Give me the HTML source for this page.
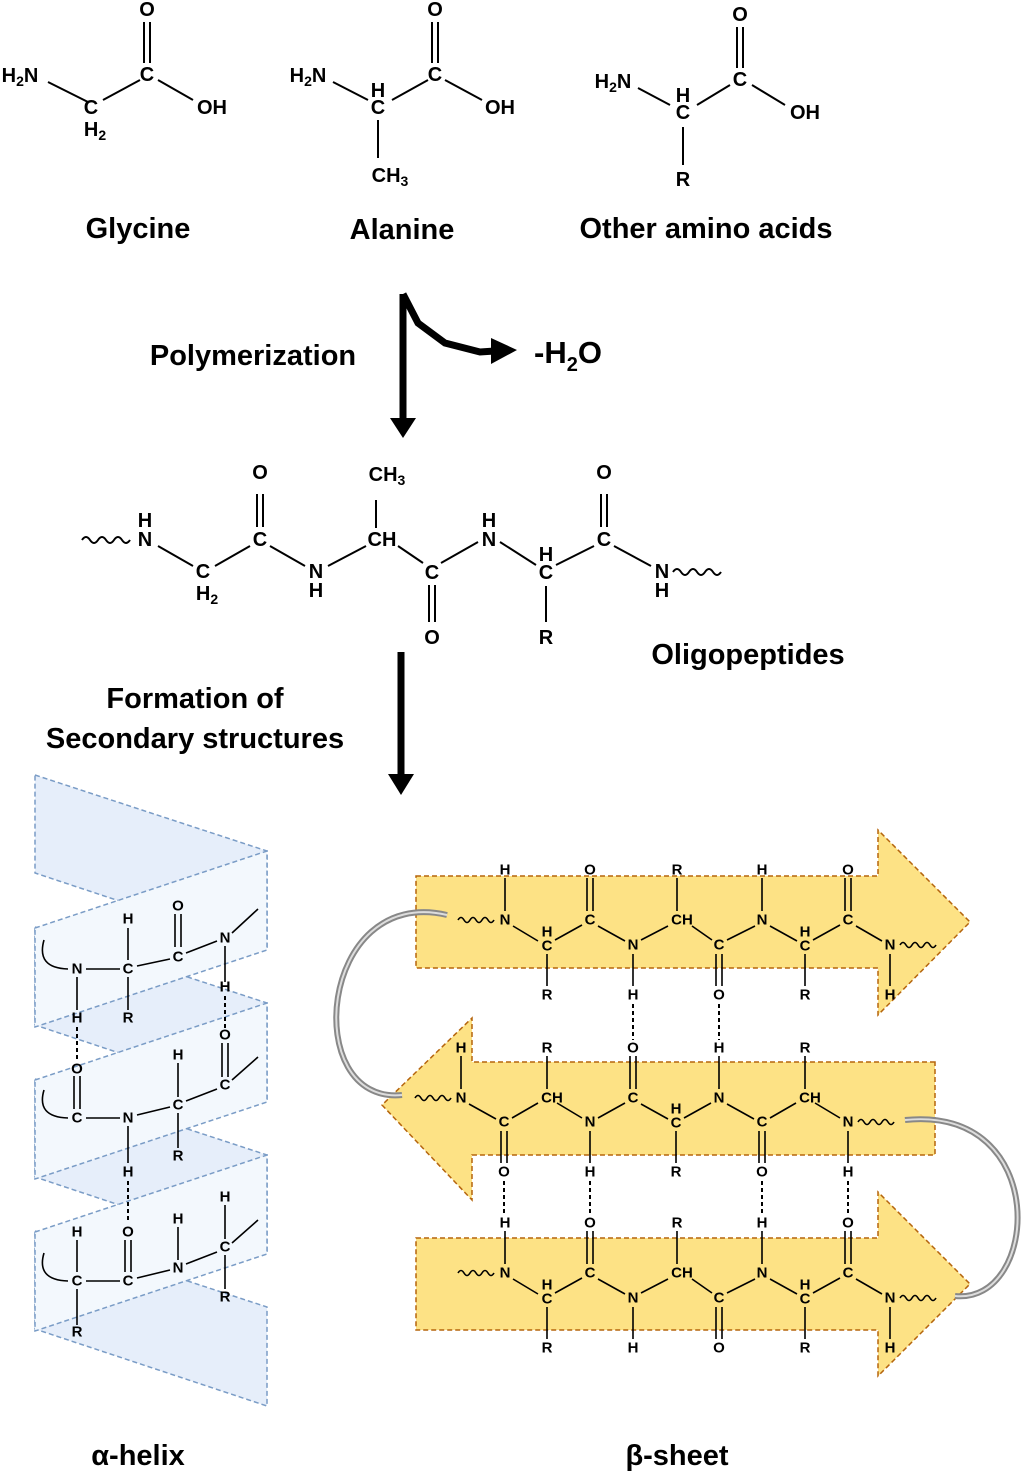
<!DOCTYPE html>
<html><head><meta charset="utf-8"><style>
html,body{margin:0;padding:0;background:#fff;}
svg{display:block;}
.a{font-family:"Liberation Sans",Arial,sans-serif;font-weight:bold;fill:#000;text-anchor:middle;dominant-baseline:central;}
.t{font-size:20px;}
.s{font-size:15px;}
.lab{font-family:"Liberation Sans",Arial,sans-serif;font-weight:bold;font-size:29px;fill:#000;text-anchor:middle;}
.b{stroke:#000;stroke-width:2;fill:none;}
.h{stroke:#000;stroke-width:2;fill:none;stroke-dasharray:4,3;}
</style></head><body>
<svg width="1024" height="1472" viewBox="0 0 1024 1472" xmlns="http://www.w3.org/2000/svg">
<!-- Glycine -->
<g class="b">
<path d="M48,82 L88,102 M103,100 L140,80 M144,22 V63 M150,22 V63 M158,80 L193,100"/>
</g>
<text class="a t" x="20" y="76">H<tspan font-size="14" dy="5">2</tspan><tspan dy="-5">N</tspan></text>
<text class="a t" x="91" y="108">C</text>
<text class="a t" x="95" y="130">H<tspan font-size="14" dy="5">2</tspan></text>
<text class="a t" x="147" y="75">C</text>
<text class="a t" x="147" y="10">O</text>
<text class="a t" x="212" y="108">OH</text>
<!-- Alanine -->
<g class="b">
<path d="M333,82 L368,100 M392,100 L428,80 M432,22 V63 M438,22 V63 M445,80 L482,100 M378,120 V158"/>
</g>
<text class="a t" x="308" y="76">H<tspan font-size="14" dy="5">2</tspan><tspan dy="-5">N</tspan></text>
<text class="a t" x="378" y="91">H</text>
<text class="a t" x="378" y="108">C</text>
<text class="a t" x="435" y="75">C</text>
<text class="a t" x="435" y="10">O</text>
<text class="a t" x="500" y="108">OH</text>
<text class="a t" x="390" y="176">CH<tspan font-size="14" dy="5">3</tspan></text>
<!-- Other -->
<g class="b">
<path d="M638,88 L670,105 M697,105 L730,85 M737,27 V68 M743,27 V68 M752,85 L785,105 M683,127 V165"/>
</g>
<text class="a t" x="613" y="82">H<tspan font-size="14" dy="5">2</tspan><tspan dy="-5">N</tspan></text>
<text class="a t" x="683" y="96">H</text>
<text class="a t" x="683" y="113">C</text>
<text class="a t" x="740" y="80">C</text>
<text class="a t" x="740" y="15">O</text>
<text class="a t" x="805" y="113">OH</text>
<text class="a t" x="683" y="180">R</text>

<text class="lab" x="138" y="238">Glycine</text>
<text class="lab" x="402" y="239">Alanine</text>
<text class="lab" x="706" y="238">Other amino acids</text>

<!-- Polymerization arrow -->
<path d="M403,294 V422 M403,294 L418,323 L445,343 L480,352 L495,351" stroke="#000" stroke-width="7" fill="none" stroke-linejoin="miter"/>
<polygon points="390,418 416,418 403,438" fill="#000"/>
<polygon points="491,338 491,364 517,350" fill="#000"/>
<text class="lab" x="253" y="365">Polymerization</text>
<text class="lab" x="568" y="363" style="font-size:31px">-H<tspan font-size="20" dy="8">2</tspan><tspan dy="-8">O</tspan></text>

<!-- Oligopeptide -->
<g class="b">
<path d="M82,540 q4,-6 8,0 q4,6 8,0 q4,-6 8,0 q4,6 8,0 q4,-6 8,0 q4,6 8,0"/>
<path d="M158,546 L193,566 M215,566 L250,546 M257,494 V527 M263,494 V527 M270,546 L305,566 M328,566 L366,546 M376,500 V528 M398,546 L423,563 M441,563 L478,542 M429,585 V622 M435,585 V622 M500,542 L536,565 M556,565 L594,546 M601,494 V527 M607,494 V527 M614,546 L651,566 M546,586 V622"/>
<path d="M673,572 q4,-6 8,0 q4,6 8,0 q4,-6 8,0 q4,6 8,0 q4,-6 8,0 q4,6 8,0"/>
</g>
<text class="a t" x="145" y="521">H</text><text class="a t" x="145" y="540">N</text>
<text class="a t" x="203" y="572">C</text><text class="a t" x="207" y="594">H<tspan font-size="14" dy="5">2</tspan></text>
<text class="a t" x="260" y="540">C</text><text class="a t" x="260" y="473">O</text>
<text class="a t" x="316" y="572">N</text><text class="a t" x="316" y="591">H</text>
<text class="a t" x="382" y="540">CH</text><text class="a t" x="387" y="475">CH<tspan font-size="14" dy="5">3</tspan></text>
<text class="a t" x="432" y="573">C</text><text class="a t" x="432" y="638">O</text>
<text class="a t" x="489" y="521">H</text><text class="a t" x="489" y="540">N</text>
<text class="a t" x="546" y="555">H</text><text class="a t" x="546" y="573">C</text>
<text class="a t" x="546" y="638">R</text>
<text class="a t" x="604" y="540">C</text><text class="a t" x="604" y="473">O</text>
<text class="a t" x="662" y="572">N</text><text class="a t" x="662" y="591">H</text>
<text class="lab" x="748" y="664">Oligopeptides</text>

<!-- Second arrow -->
<path d="M401,652 V778" stroke="#000" stroke-width="7"/>
<polygon points="388,774 414,774 401,795" fill="#000"/>
<text class="lab" x="195" y="708">Formation of</text>
<text class="lab" x="195" y="748">Secondary structures</text>

<!-- Alpha helix -->
<g stroke="#7a9cc6" stroke-width="1.5" stroke-dasharray="5,3">
<polygon points="35,775 267,851 267,950 35,873" fill="#e6eefa"/>
<polygon points="35,927 267,1003 267,1102 35,1025" fill="#e6eefa"/>
<polygon points="35,1079 267,1155 267,1254 35,1177" fill="#e6eefa"/>
<polygon points="35,1231 267,1307 267,1406 35,1329" fill="#e6eefa"/>
<polygon points="35,928 267,851 267,950 35,1027" fill="#f3f8fd"/>
<polygon points="35,1080 267,1003 267,1102 35,1179" fill="#f3f8fd"/>
<polygon points="35,1232 267,1155 267,1254 35,1331" fill="#f3f8fd"/>
</g>
<g stroke="#000" stroke-width="1.6" fill="none">
<path d="M44,940 Q36,968 68,969 M86,969 H120 M137,966 L170,959 M128,928 V960 M128,977 V1010 M175,914 V947 M181,914 V947 M186,953 L217,941 M232,933 L258,909 M225,946 V982 M77,977 V1010"/>
<path d="M44,1090 Q36,1117 68,1118 M86,1118 H120 M137,1115 L170,1107 M178,1063 V1097 M178,1113 V1148 M186,1101 L217,1089 M232,1080 L258,1057 M222,1043 V1077 M228,1043 V1077 M74,1076 V1109 M80,1076 V1109 M128,1126 V1163"/>
<path d="M44,1253 Q36,1280 68,1281 M86,1281 H120 M137,1278 L170,1270 M77,1240 V1272 M77,1289 V1325 M125,1240 V1272 M131,1240 V1272 M178,1227 V1260 M186,1264 L217,1252 M232,1243 L258,1220 M225,1205 V1239 M225,1255 V1289"/>
</g>
<g class="h" stroke-width="1.6"><path d="M225,996 V1028 M77,1027 V1062 M128,1181 V1223"/></g>
<g class="a s">
<text x="77" y="969">N</text><text x="128" y="969">C</text><text x="128" y="919">H</text><text x="128" y="1018">R</text>
<text x="178" y="957">C</text><text x="178" y="906">O</text><text x="225" y="938">N</text><text x="225" y="987">H</text>
<text x="225" y="1035">O</text><text x="77" y="1018">H</text>
<text x="77" y="1069">O</text><text x="77" y="1118">C</text><text x="128" y="1118">N</text><text x="178" y="1105">C</text>
<text x="178" y="1055">H</text><text x="178" y="1156">R</text><text x="225" y="1085">C</text><text x="128" y="1172">H</text>
<text x="77" y="1232">H</text><text x="77" y="1281">C</text><text x="77" y="1332">R</text><text x="128" y="1281">C</text>
<text x="128" y="1232">O</text><text x="178" y="1268">N</text><text x="178" y="1219">H</text><text x="225" y="1247">C</text>
<text x="225" y="1197">H</text><text x="225" y="1297">R</text>
</g>

<!-- Beta sheet arrows -->
<g fill="#fde285" stroke="#b5650d" stroke-width="1.5" stroke-dasharray="5,3">
<polygon points="416,876 878,876 878,830 970,922 878,1015 878,968 416,968"/>
<polygon points="935,1062 472,1062 472,1018 382,1105 472,1200 472,1155 935,1155"/>
<polygon points="416,1238 878,1238 878,1192 970,1284 878,1376 878,1330 416,1330"/>
</g>
<!-- loops -->
<g fill="none" stroke-linecap="butt">
<path d="M447,915 C318,885 300,1105 402,1095" stroke="#888" stroke-width="6"/>
<path d="M447,915 C318,885 300,1105 402,1095" stroke="#ddd" stroke-width="2"/>
<path d="M905,1120 C1052,1105 1040,1305 955,1296" stroke="#888" stroke-width="6"/>
<path d="M905,1120 C1052,1105 1040,1305 955,1296" stroke="#ddd" stroke-width="2"/>
</g>

<!-- top strand -->
<g stroke="#000" stroke-width="1.6" fill="none">
<path d="M458,920 q3,-5 6,0 q3,5 6,0 q3,-5 6,0 q3,5 6,0 q3,-5 6,0 q3,5 6,0"/>
<path d="M505,878 V911 M513,926 L538,941 M547,954 V986 M555,940 L582,925 M587,878 V911 M593,878 V911 M598,926 L625,941 M633,954 V986 M641,940 L668,926 M677,878 V911 M692,926 L712,940 M716,954 V986 M722,954 V986 M727,940 L755,926 M762,878 V911 M770,926 L797,941 M805,954 V986 M813,940 L840,925 M845,878 V911 M851,878 V911 M856,926 L882,941 M890,954 V986"/>
<path d="M900,945 q3,-5 6,0 q3,5 6,0 q3,-5 6,0 q3,5 6,0 q3,-5 6,0 q3,5 6,0"/>
</g>
<g class="a s">
<text x="505" y="870">H</text><text x="505" y="920">N</text><text x="547" y="932">H</text><text x="547" y="946">C</text><text x="547" y="995">R</text>
<text x="590" y="920">C</text><text x="590" y="870">O</text><text x="633" y="945">N</text><text x="633" y="995">H</text>
<text x="682" y="920">CH</text><text x="677" y="870">R</text><text x="719" y="945">C</text><text x="719" y="995">O</text>
<text x="762" y="920">N</text><text x="762" y="870">H</text><text x="805" y="932">H</text><text x="805" y="946">C</text><text x="805" y="995">R</text>
<text x="848" y="920">C</text><text x="848" y="870">O</text><text x="890" y="945">N</text><text x="890" y="995">H</text>
</g>
<!-- middle strand -->
<g stroke="#000" stroke-width="1.6" fill="none">
<path d="M415,1098 q3,-5 6,0 q3,5 6,0 q3,-5 6,0 q3,5 6,0 q3,-5 6,0 q3,5 6,0"/>
<path d="M461,1056 V1089 M469,1104 L496,1119 M501,1131 V1163 M507,1131 V1163 M512,1118 L538,1103 M547,1056 V1089 M557,1103 L582,1118 M590,1131 V1163 M598,1118 L625,1103 M630,1056 V1089 M636,1056 V1089 M641,1104 L668,1119 M676,1131 V1163 M684,1118 L711,1103 M719,1056 V1089 M727,1104 L754,1119 M759,1131 V1163 M765,1131 V1163 M770,1118 L796,1103 M805,1056 V1089 M815,1103 L840,1118 M848,1131 V1163"/>
<path d="M858,1122 q3,-5 6,0 q3,5 6,0 q3,-5 6,0 q3,5 6,0 q3,-5 6,0 q3,5 6,0"/>
</g>
<g class="a s">
<text x="461" y="1048">H</text><text x="461" y="1098">N</text><text x="504" y="1122">C</text><text x="504" y="1172">O</text>
<text x="552" y="1098">CH</text><text x="547" y="1048">R</text><text x="590" y="1122">N</text><text x="590" y="1172">H</text>
<text x="633" y="1098">C</text><text x="633" y="1048">O</text><text x="676" y="1109">H</text><text x="676" y="1123">C</text><text x="676" y="1172">R</text>
<text x="719" y="1098">N</text><text x="719" y="1048">H</text><text x="762" y="1122">C</text><text x="762" y="1172">O</text>
<text x="810" y="1098">CH</text><text x="805" y="1048">R</text><text x="848" y="1122">N</text><text x="848" y="1172">H</text>
</g>
<!-- bottom strand -->
<g stroke="#000" stroke-width="1.6" fill="none" transform="translate(0,353)">
<path d="M458,920 q3,-5 6,0 q3,5 6,0 q3,-5 6,0 q3,5 6,0 q3,-5 6,0 q3,5 6,0"/>
<path d="M505,878 V911 M513,926 L538,941 M547,954 V986 M555,940 L582,925 M587,878 V911 M593,878 V911 M598,926 L625,941 M633,954 V986 M641,940 L668,926 M677,878 V911 M692,926 L712,940 M716,954 V986 M722,954 V986 M727,940 L755,926 M762,878 V911 M770,926 L797,941 M805,954 V986 M813,940 L840,925 M845,878 V911 M851,878 V911 M856,926 L882,941 M890,954 V986"/>
<path d="M900,945 q3,-5 6,0 q3,5 6,0 q3,-5 6,0 q3,5 6,0 q3,-5 6,0 q3,5 6,0"/>
</g>
<g class="a s">
<text x="505" y="1223">H</text><text x="505" y="1273">N</text><text x="547" y="1285">H</text><text x="547" y="1299">C</text><text x="547" y="1348">R</text>
<text x="590" y="1273">C</text><text x="590" y="1223">O</text><text x="633" y="1298">N</text><text x="633" y="1348">H</text>
<text x="682" y="1273">CH</text><text x="677" y="1223">R</text><text x="719" y="1298">C</text><text x="719" y="1348">O</text>
<text x="762" y="1273">N</text><text x="762" y="1223">H</text><text x="805" y="1285">H</text><text x="805" y="1299">C</text><text x="805" y="1348">R</text>
<text x="848" y="1273">C</text><text x="848" y="1223">O</text><text x="890" y="1298">N</text><text x="890" y="1348">H</text>
</g>
<!-- H bonds -->
<g class="h" stroke-width="1.6"><path d="M633,1004 V1040 M719,1004 V1040 M504,1181 V1215 M590,1181 V1215 M762,1181 V1215 M848,1181 V1215"/></g>

<text class="lab" x="138" y="1465">α-helix</text>
<text class="lab" x="677" y="1465">β-sheet</text>
</svg>
</body></html>
